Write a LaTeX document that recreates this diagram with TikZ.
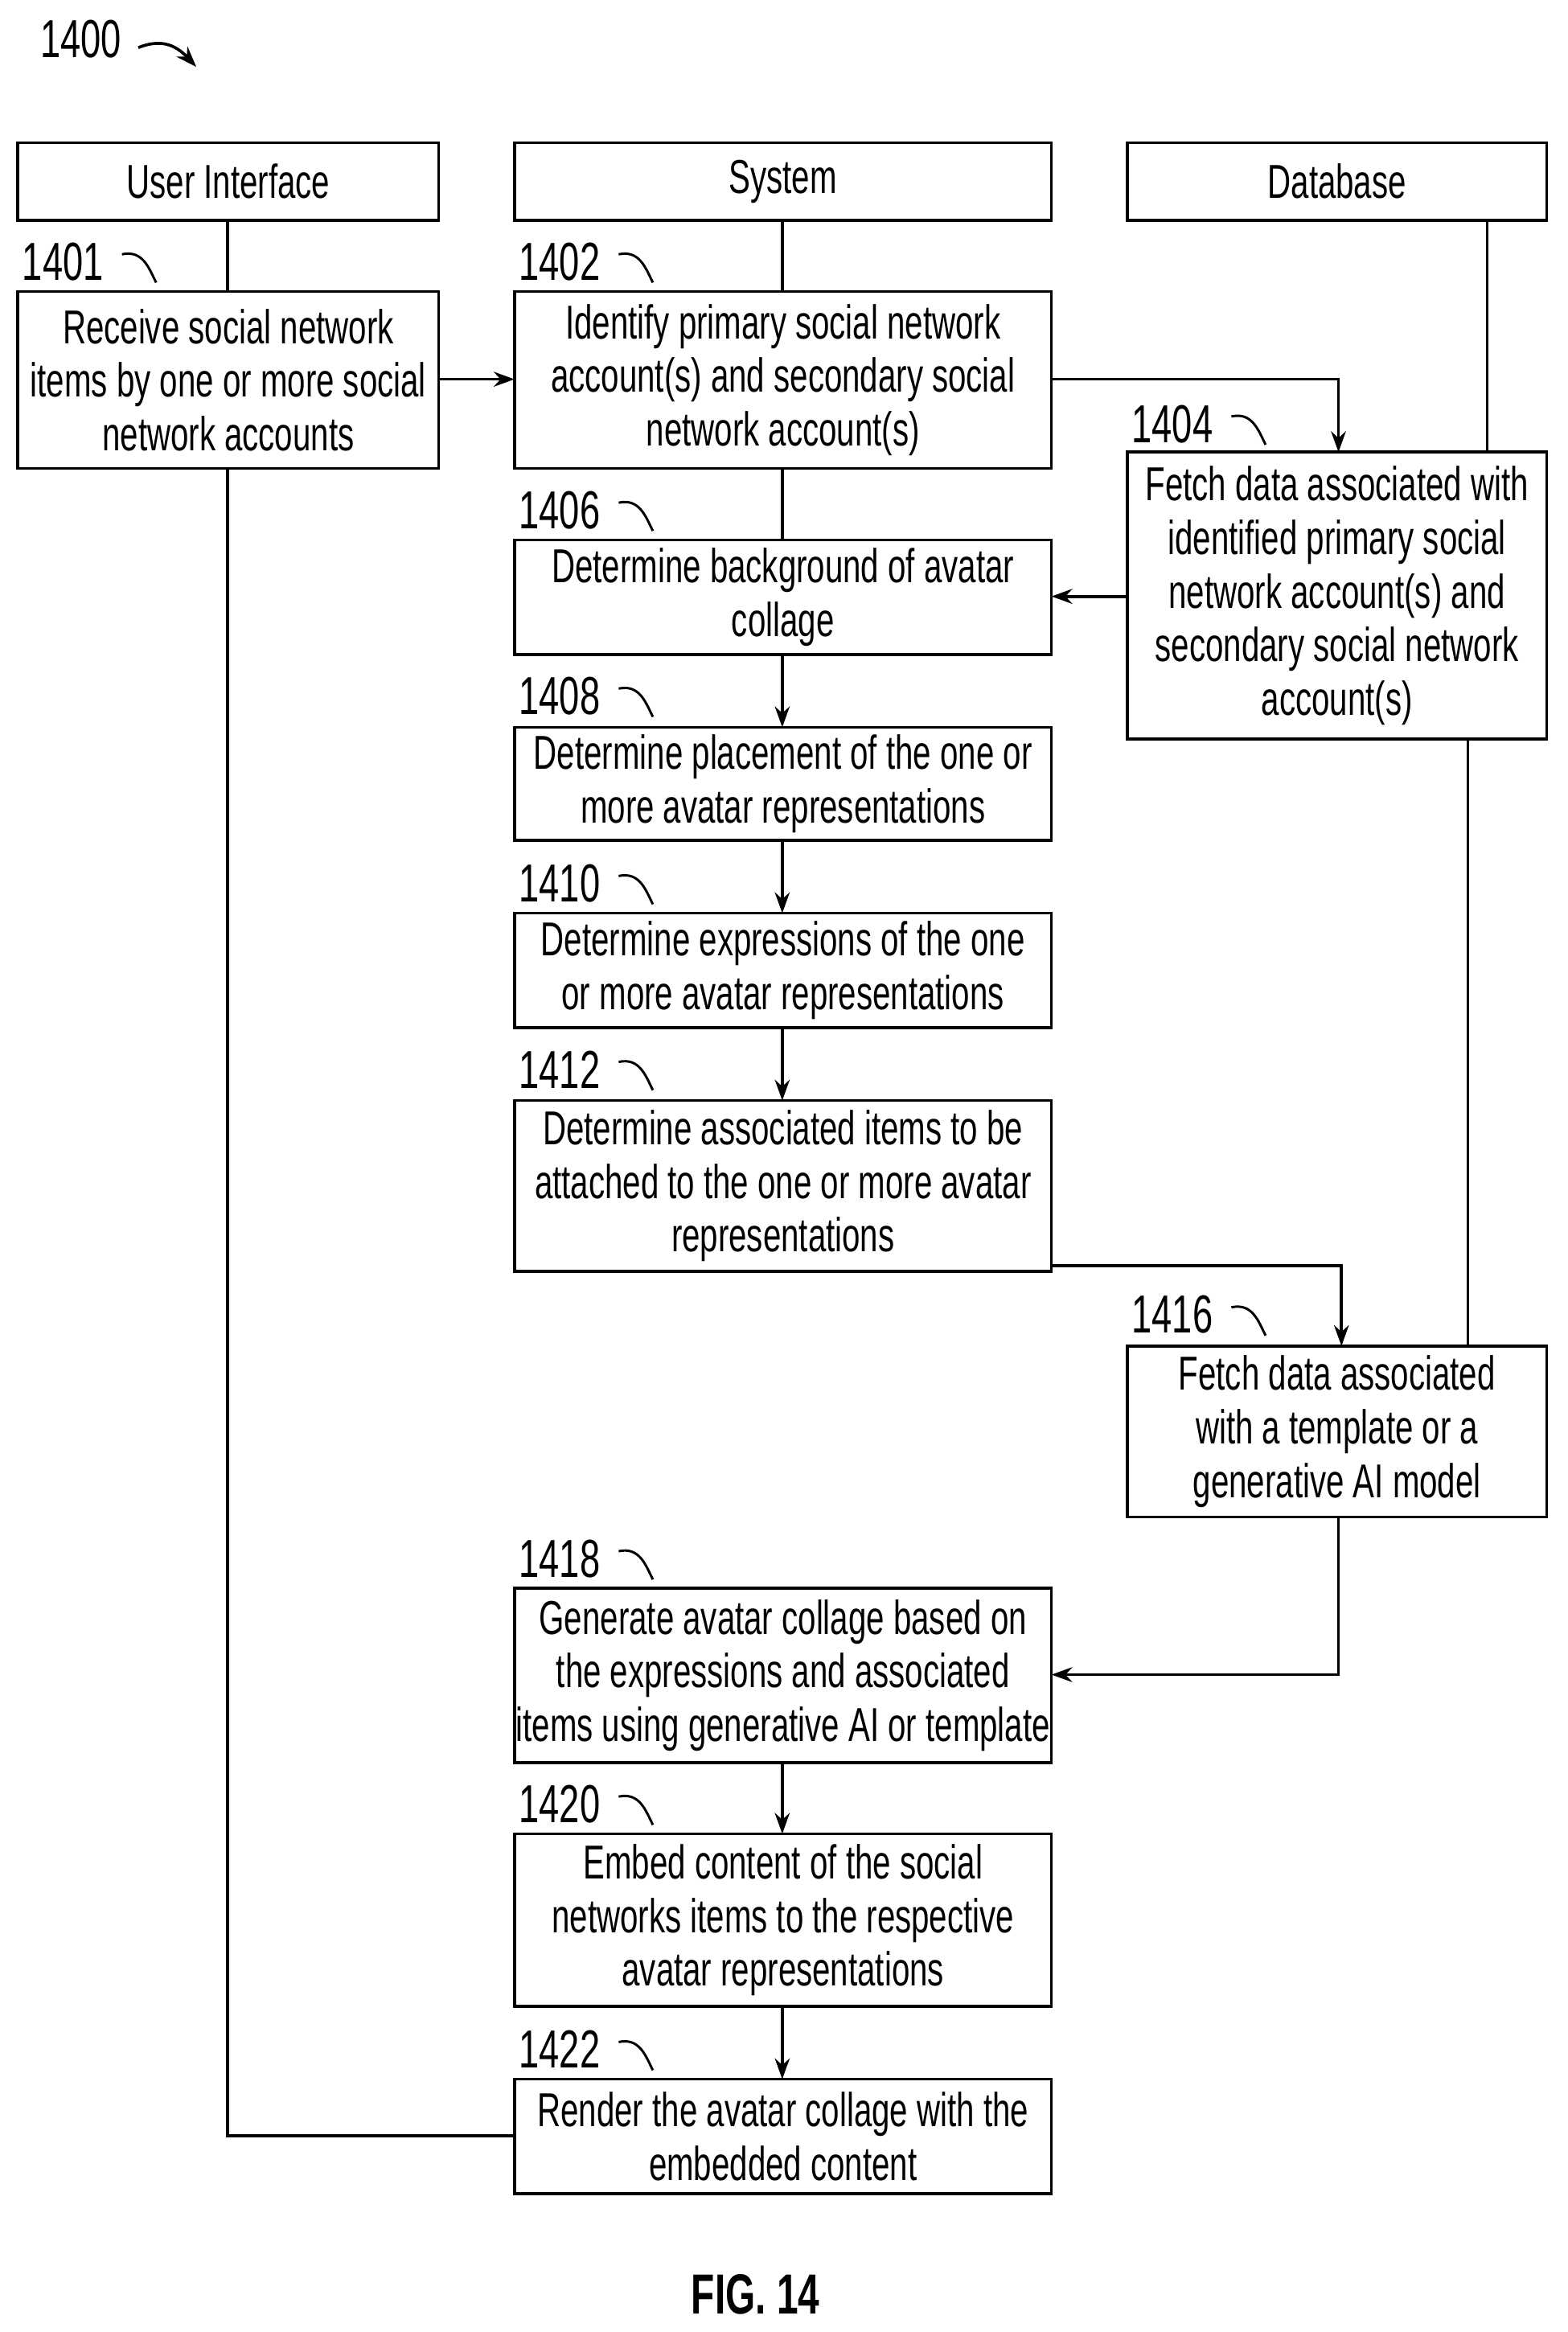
\documentclass[tikz,border=0pt]{standalone}
\usepackage{fontspec}
\setmainfont{Liberation Sans}[FakeStretch=0.68]
\usetikzlibrary{arrows.meta}
\begin{document}
\begin{tikzpicture}[x=0.5pt,y=-0.5pt,
 box/.style={draw,line width=1pt,inner sep=0pt},
 txt/.style={align=center,font=\fontsize{16}{18}\selectfont},
 num/.style={font=\fontsize{18}{18}\selectfont,anchor=west},
 ln/.style={line width=1pt},
 ar/.style={line width=1pt,-{Stealth[length=7pt,width=5pt]}}]
\useasboundingbox (0,0) rectangle (1054,1568);
\newcommand\bx[6]{\draw[box] (#2,#3) rectangle (#4,#5); \node[txt] (#1) at ({(#2+#4)/2},{(#3+#5)/2}) {#6};
 \coordinate (#1nw) at (#2,#3); \coordinate (#1se) at (#4,#5);}
\newcommand\lbl[3]{\node[num] at (#1,#2) {#3}; \draw[line width=0.8pt] ({#1+74},{#2-5}) .. controls ({#1+88},{#2-8}) and ({#1+92},{#2+4}) .. ({#1+97},{#2+14});}
\bx{hui}{12}{96}{295}{148}{User Interface}
\bx{hsy}{346}{96}{707}{148}{System}
\bx{hdb}{758}{96}{1040}{148}{Database}
\bx{b1}{12}{196}{295}{315}{Receive social network\\items by one or more social\\network accounts}
\bx{b2}{346}{196}{707}{315}{Identify primary social network\\account(s) and secondary social\\network account(s)}
\bx{b4}{758}{304}{1040}{497}{Fetch data associated with\\identified primary social\\network account(s) and\\secondary social network\\account(s)}
\bx{b6}{346}{363}{707}{440}{Determine background of avatar\\collage}
\bx{b8}{346}{489}{707}{565}{Determine placement of the one or\\more avatar representations}
\bx{b10}{346}{614}{707}{691}{Determine expressions of the one\\or more avatar representations}
\bx{b12}{346}{740}{707}{855}{Determine associated items to be\\attached to the one or more avatar\\representations}
\bx{b16}{758}{905}{1040}{1020}{Fetch data associated\\with a template or a\\generative AI model}
\bx{b18}{346}{1068}{707}{1185}{Generate avatar collage based on\\the expressions and associated\\items using generative AI or template}
\bx{b20}{346}{1233}{707}{1349}{Embed content of the social\\networks items to the respective\\avatar representations}
\bx{b22}{346}{1398}{707}{1475}{Render the avatar collage with the\\embedded content}
\lbl{8}{176}{1401}
\lbl{342}{176}{1402}
\lbl{754}{285}{1404}
\lbl{342}{343}{1406}
\lbl{342}{468}{1408}
\lbl{342}{594}{1410}
\lbl{342}{719}{1412}
\lbl{754}{884}{1416}
\lbl{342}{1048}{1418}
\lbl{342}{1213}{1420}
\lbl{342}{1378}{1422}
\node[num] (t) at (20,26) {1400};
\draw[ar] (93,32) .. controls (108,26) and (118,30) .. (132,45);
\node[font=\bfseries\fontsize{19}{22}\selectfont] (fig) at (508,1543) {FIG. 14};
% connectors
\draw[ln] (153,148) -- (153,196);
\draw[ln] (526,148) -- (526,196);
\draw[ln] (1000,148) -- (1000,304);
\draw[ln] (153,315) -- (153,1436) -- (346,1436);
\draw[ar] (295,255) -- (346,255);
\draw[ar] (707,255) -- (900,255) -- (900,304);
\draw[ln] (526,315) -- (526,363);
\draw[ar] (758,401) -- (707,401);
\draw[ar] (526,440) -- (526,489);
\draw[ar] (526,565) -- (526,614);
\draw[ar] (526,691) -- (526,740);
\draw[ar] (707,851) -- (902,851) -- (902,905);
\draw[ln] (987,497) -- (987,905);
\draw[ar] (900,1020) -- (900,1126) -- (707,1126);
\draw[ar] (526,1185) -- (526,1233);
\draw[ar] (526,1349) -- (526,1398);
\end{tikzpicture}
\end{document}
